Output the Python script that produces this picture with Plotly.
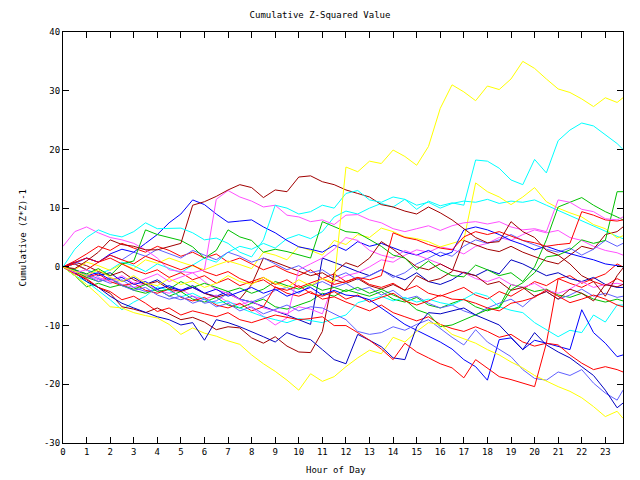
import plotly.graph_objects as go

# Sample times (hours): every half hour, plus the last quarter-hour sample
hours = [i * 0.5 for i in range(48)] + [23.75]
x_ticks = list(range(24))
y_ticks = list(range(-30, 41, 10))

# ---- series values ----
Y1 = [0, -0.8, -1.5, -0.5, -1.8, -2.5, -1.5, -2.8, -3.2, -2.0, -3.0, -2.4,
      -3.5, -2.8, -1.5, -2.5, -3.0, -1.8, -2.8, -3.5, -2.2, -3.2, -2.0, -2.6,
      17.0, 16.2, 18.0, 17.6, 19.9, 18.8, 17.3, 20.5, 27.0, 31.0, 29.8, 28.3,
      30.8, 30.2, 32.0, 35.0, 33.8, 32.0, 30.3, 29.7, 28.6, 27.3, 28.8, 28.0,
      28.8]
Y2 = [0, -1.5, -3.0, -4.8, -6.8, -7.0, -7.8, -8.3, -8.7, -9.8, -11.5, -10.4,
      -11.3, -11.8, -12.6, -13.2, -15.0, -16.5, -17.8, -19.3, -21.0, -18.2, -19.5, -18.7,
      -17.0, -15.5, -14.2, -14.8, -12.0, -12.8, -11.0, -9.5, -9.8, -11.5, -12.2, -13.0,
      -14.1, -15.0, -16.2, -17.2, -18.5, -19.5, -20.4, -21.2, -22.3, -23.8, -25.5, -24.6,
      -25.8]
Y3 = [0, -0.5, 0.8, 0.2, -0.6, 0.5, -0.3, 1.2, 0.6, 1.5, 0.8, 0.2,
      -0.5, 0.3, 1.0, 0.4, -0.3, 2.5, 2.0, 1.2, 3.5, 2.8, 2.0, 4.5,
      3.8, 5.5, 5.0, 6.6, 6.0, 5.1, 4.8, 4.3, 3.4, 4.0, 4.6, 14.3,
      12.8, 11.9, 10.6, 11.9, 13.5, 11.1, 10.0, 9.2, 8.5, 7.2, 6.5, 4.9,
      5.3]
C1 = [0, 3.0, 5.0, 6.3, 5.5, 5.1, 6.0, 7.5, 6.5, 6.6, 6.6, 5.8,
      4.6, 4.9, 4.0, 2.5, 1.7, 4.6, 10.5, 10.0, 9.0, 9.4, 10.5, 10.0,
      12.5, 13.0, 11.4, 11.0, 11.9, 11.5, 9.8, 11.2, 10.4, 10.9, 10.5, 18.2,
      18.0, 16.8, 14.8, 14.0, 18.3, 16.0, 21.5, 23.3, 24.5, 24.0, 22.5, 21.0,
      20.0]
C2 = [0, -1.5, -2.5, -4.0, -5.6, -7.3, -6.0, -5.0, -3.4, -4.0, -5.1, -4.5,
      -5.5, -6.2, -5.8, -7.0, -7.8, -8.5, -9.0, -9.5, -8.8, -9.2, -9.5, -8.8,
      -8.2, -6.1, -5.6, -5.0, -5.8, -5.2, -6.0, -5.5, -6.1, -6.5, -5.5, -4.4,
      -5.0, -6.8, -7.4, -7.8, -9.5, -10.7, -11.9, -10.8, -11.2, -8.2, -9.4, -6.5,
      -6.5]
C3 = [0, 0.5, -0.5, -1.2, -0.5, 0.8, 0.2, -0.8, 0.5, -0.2, -1.0, 0.3,
      1.5, 0.8, 2.5, 3.5, 3.0, 4.0, 3.2, 4.8, 5.5, 4.8, 6.0, 8.5,
      9.5, 9.0, 10.0, 10.8, 10.2, 11.5, 10.5, 11.0, 10.0, 10.8, 11.2, 11.0,
      11.5, 10.8, 11.2, 11.0, 11.4, 10.5, 9.6, 8.8, 7.8, 7.0, 6.0, 5.2,
      4.8]
D1 = [0, -1.0, -2.2, -3.5, -4.5, -6.8, -7.2, -7.8, -7.0, -8.0, -9.0, -8.6,
      -9.4, -10.7, -10.2, -10.4, -12.1, -13.0, -11.9, -13.5, -14.5, -14.6, -11.0, -1.0,
      0.7, 0.0, 1.5, 4.3, 3.0, 1.5, 0.0, -0.5, 0.5, -0.5, -1.0, -1.5,
      -3.0, -2.5, -4.0, -3.5, -5.0, -4.2, -5.5, -3.8, -4.5, -5.8, -3.0, -3.4,
      -3.0]
D2 = [0, 0.8, 0.2, -0.8, -1.5, -0.8, -2.2, -3.0, -2.5, -3.8, -4.2, -3.5,
      -4.5, -5.2, -4.6, -5.5, -3.0, 1.5, 0.8, 0.0, -0.8, -1.5, -1.0, -2.2,
      -2.8, -2.0, -3.2, -3.8, -3.0, -4.0, -1.5, -2.5, -2.0, -0.8, 4.5, 3.8,
      3.0, 2.6, 3.5, 2.5, 1.8, 1.0, 0.5, 2.0, 3.5, 3.0, 5.5, 6.0,
      6.8]
D3 = [0, -0.3, 1.0, 2.5, 4.6, 3.8, 3.5, 2.9, 2.9, 3.5, 4.0, 10.5,
      11.1, 12.0, 13.1, 14.0, 13.5, 11.8, 13.1, 12.8, 15.3, 15.5, 14.5, 14.0,
      13.1, 12.5, 11.9, 10.6, 10.2, 9.5, 9.0, 10.2, 9.2, 8.0, 6.5, 5.0,
      4.1, 4.3, 7.7, 6.0, 5.0, 2.8, 2.0, 0.5, -1.5, -2.5, -5.0, -1.5,
      -0.2]
M1 = [0, -1.0, -0.5, -1.8, -2.5, -1.5, -2.8, -2.0, -1.2, -2.5, -1.8, -1.0,
      -0.5, 11.5, 13.0, 11.9, 11.2, 10.2, 10.5, 8.8, 8.5, 7.7, 8.0, 7.2,
      8.8, 8.9, 8.0, 7.5, 6.5, 6.0, 6.5, 7.0, 6.2, 7.0, 7.5, 7.7,
      7.3, 7.7, 6.8, 6.3, 6.5, 6.0, 11.4, 11.0, 9.8, 9.4, 8.2, 8.0,
      8.5]
M2 = [3.5, 6.0, 6.8, 5.8, 5.0, 4.6, 4.0, 2.9, 1.5, -0.5, -0.8, -1.0,
      -2.5, -3.9, -4.5, -5.6, -7.0, -8.5, -9.9, -8.7, -0.5, 0.5, 1.5, 3.0,
      5.0, 4.5, 2.8, 2.0, 1.5, 2.8, 2.0, 1.2, 0.5, -0.5, -1.0, -2.0,
      -2.5, -1.8, -3.0, -3.5, -2.8, -4.0, -4.5, -3.8, -2.5, -3.5, -3.0, -2.8,
      -3.0]
M3 = [0, -0.8, -1.5, -2.2, -1.8, -3.0, -3.5, -2.8, -4.0, -4.5, -3.8, -5.0,
      -5.5, -4.8, -6.0, -6.5, -5.8, -7.0, -7.5, -8.0, -6.8, -7.2, -8.0, -2.5,
      -1.5, -1.0, 0.0, 1.2, 0.8, 2.0, 2.9, 2.5, 3.4, 3.0, 2.2, 3.5,
      4.0, 5.0, 4.5, 5.5, 6.3, 5.8, 6.2, 5.0, 4.5, 3.5, 2.8, 2.4,
      2.0]
G1 = [0, -0.5, -1.2, -0.3, -1.5, 0.5, 1.0, 6.3, 5.5, 5.0, 4.5, 3.4,
      1.5, 2.8, 6.3, 5.1, 4.5, 2.5, 3.0, 2.6, 2.0, 1.5, 7.7, 6.8,
      6.0, 5.8, 4.6, 3.5, 2.0, 1.5, -0.5, 1.0, -0.5, -1.5, -1.7, 0.3,
      -0.5, -1.5, -1.0, -2.5, 0.0, 4.6, 10.2, 11.0, 11.8, 10.5, 9.4, 8.5,
      8.0]
G2 = [0, -0.8, -1.8, -2.5, -2.0, -3.2, -3.8, -3.0, -4.2, -3.8, -2.5, -3.5,
      -2.8, -3.5, -4.2, -3.6, -4.5, -3.8, -2.5, -3.2, -3.8, -3.0, -4.0, -3.5,
      -4.2, -3.5, -4.5, -3.8, -4.8, -5.6, -7.3, -8.0, -10.2, -9.9, -9.0, -8.2,
      -7.3, -7.0, -3.9, -2.7, -1.0, 1.7, 2.0, 2.9, 4.6, 4.0, 4.5, 12.8,
      12.8]
G3 = [0, -1.5, -3.4, -2.8, -3.5, -3.0, -4.0, -4.5, -3.8, -5.0, -4.2, -5.5,
      -6.0, -5.2, -6.5, -7.0, -6.2, -5.5, -6.8, -7.2, -6.5, -5.8, -4.5, -5.0,
      -3.9, -4.5, -5.0, -4.2, -5.5, -6.0, -5.2, -6.5, -7.0, -6.2, -5.5, -6.8,
      -7.5, -6.8, -3.0, -3.5, -4.2, -3.8, -4.8, -5.2, -4.5, -5.5, -6.0, -5.5,
      -5.8]
R1 = [0, 0.5, -0.5, 0.8, 1.5, 0.5, -0.5, -1.2, -0.5, -1.8, -1.0, -2.2,
      -1.5, -2.8, -2.0, -3.2, -2.5, -1.8, -3.0, -2.2, -3.5, -2.8, -2.0, -3.0,
      -2.5, -1.8, -2.2, -1.5, 5.8, 5.0, 4.6, 3.8, 3.2, 2.9, 5.1, 6.0,
      5.5, 6.0, 5.2, 4.5, 4.1, 3.5, 3.8, 4.0, 9.4, 8.8, 8.0, 7.8,
      8.0]
R2 = [0, -1.2, -2.0, -3.5, -4.2, -5.6, -5.0, -6.2, -7.6, -7.0, -8.2, -7.5,
      -8.0, -8.5, -7.8, -9.0, -9.5, -8.8, -8.2, -8.6, -9.0, -8.8, -8.5, -10.0,
      -10.0, -11.2, -12.5, -14.0, -15.8, -13.0, -14.5, -15.5, -16.5, -17.2, -18.9, -15.8,
      -17.2, -18.7, -19.2, -19.8, -20.4, -13.0, -13.3, -15.0, -16.4, -17.5, -17.0, -17.5,
      -17.9]
R3 = [0, 0.8, 1.5, 0.8, 2.0, 1.2, 0.5, 1.8, 1.0, 0.2, -0.5, 0.3,
      -0.8, -1.5, -0.8, -2.0, -2.8, -2.2, -3.5, -4.0, -3.2, -4.5, -5.0, -4.2,
      -5.5, -4.8, -6.0, -5.2, -4.5, -5.8, -6.5, -5.8, -4.8, -5.5, -5.6, -6.2,
      -7.0, -7.5, -6.2, -5.8, -5.2, -3.9, -5.0, -6.1, -5.5, -4.8, -5.5, -6.5,
      -6.8]
R4 = [0, 1.0, 2.2, 3.5, 2.8, 4.0, 3.2, 2.5, 3.5, 2.8, 1.8, 2.5,
      1.5, 2.2, 0.8, 1.5, 0.5, -0.5, 0.2, -0.8, -1.5, -0.5, -2.0, -1.2,
      -2.5, -1.8, -3.0, -3.5, -2.8, -4.0, -3.2, -4.5, -5.0, -4.2, -3.5, -4.8,
      -5.5, -4.2, -5.0, -3.8, -2.5, -3.2, -2.0, -1.5, -2.8, -2.0, -1.2, 0.5,
      0.0]
R5 = [0, -0.8, -1.8, -1.2, -2.5, -3.2, -2.8, -4.0, -4.5, -3.8, -5.2, -5.8,
      -5.2, -6.5, -7.0, -6.2, -7.5, -6.8, -3.4, -4.5, -5.0, -4.2, -5.5, -5.1,
      -6.0, -6.8, -7.5, -6.5, -7.8, -8.5, -9.2, -8.5, -9.8, -10.5, -11.0, -10.2,
      -11.0, -12.0, -11.5, -12.8, -13.5, -13.0, -2.0, -2.8, -3.5, -2.5, -3.2, -2.0,
      -2.5]
B1 = [0, 0.8, 1.5, 0.8, 2.2, 3.0, 2.5, 4.0, 5.5, 7.5, 9.0, 11.4,
      10.6, 9.0, 7.6, 7.8, 8.0, 6.8, 5.8, 4.5, 3.4, 3.0, 2.5, 3.7,
      2.8, 4.3, 3.5, 4.0, 3.2, 2.5, 2.0, 2.8, 1.8, 2.5, 6.3, 6.8,
      6.3, 5.5, 4.5, 3.8, 2.9, 3.5, 2.8, 2.2, 1.7, 1.2, 0.5, 0.2,
      0.0]
B2 = [0, -1.0, -2.5, -3.5, -5.0, -6.2, -7.0, -7.8, -8.5, -9.0, -9.9, -9.5,
      -12.5, -9.0, -9.5, -10.2, -11.0, -11.9, -12.8, -11.2, -12.0, -12.4, -14.1, -15.8,
      -16.5, -11.5, -12.5, -13.6, -15.5, -15.8, -10.2, -7.8, -8.0, -7.5, -7.0, -8.2,
      -9.0, -9.9, -12.0, -14.1, -11.2, -13.3, -14.5, -15.5, -17.0, -18.5, -21.0, -24.0,
      -23.2]
B3 = [0, -0.5, -1.5, -1.0, -2.2, -1.8, -3.0, -2.5, -3.8, -3.2, -4.0, -3.5,
      -4.5, -3.8, -5.0, -4.2, -3.5, -4.5, -3.8, -5.0, -4.2, -3.5, -4.8, -4.0,
      -4.8, -5.0, -5.6, -7.0, -8.5, -9.8, -10.8, -11.8, -12.8, -14.0, -15.8, -17.0,
      -19.3, -12.4, -12.1, -14.1, -12.5, -13.0, -13.5, -14.1, -7.3, -11.2, -13.0, -15.3,
      -15.0]
B4 = [0, 0.5, -0.5, -1.5, -1.0, -2.5, -1.8, -3.0, -2.2, -3.5, -4.0, -3.2,
      -4.5, -5.0, -4.2, -5.5, -6.0, -6.8, -7.5, -8.2, -9.0, -9.8, 1.5, 0.8,
      0.0, -0.8, -1.5, -0.5, -1.5, -2.2, -1.0, -2.5, -3.0, -2.2, -0.9, -1.5,
      -0.5, -1.2, 1.2, 0.5, -0.5, -1.5, -1.0, -2.0, -2.5, -1.8, -3.0, -3.5,
      -3.5]
L1 = [0, -0.8, -1.5, -2.5, -2.0, -3.2, -4.0, -3.5, -4.8, -5.5, -5.0, -6.2,
      -5.5, -6.8, -6.2, -7.5, -6.8, -8.0, -7.2, -6.5, -7.5, -6.8, -7.0, -8.0,
      -9.0, -11.0, -11.5, -11.2, -10.2, -10.8, -9.8, -9.0, -10.5, -12.0, -13.3, -10.7,
      -12.8, -14.0, -15.3, -17.5, -19.0, -19.3, -17.9, -18.5, -17.5, -19.8, -21.5, -22.7,
      -21.0]
L2 = [0, 0.5, 1.5, 0.8, 2.0, 1.2, 2.5, 1.8, 3.0, 2.2, 1.5, 2.8,
      2.0, 1.2, 2.5, 1.8, 0.8, 1.5, 0.5, -0.5, 0.2, -1.0, -0.5, -1.8,
      -1.0, -2.2, -1.5, -0.5, -1.8, -1.0, 0.5, 1.5, 2.5, 1.8, 3.5, 4.6,
      4.0, 4.6, 5.5, 4.5, 3.8, 3.0, 2.5, 3.2, 2.0, 3.0, 4.5, 3.5,
      4.0]
L3 = [0, -0.5, -1.2, -2.0, -2.8, -2.2, -3.5, -4.2, -3.8, -5.0, -5.6, -5.0,
      -6.2, -5.8, -4.5, -5.5, -6.0, -5.2, -4.0, -3.5, -4.5, -3.2, -2.5, -3.5,
      -2.8, -4.0, -3.5, -4.8, -4.0, -5.5, -5.0, -6.2, -7.0, -6.5, -7.5, -8.2,
      -7.0, -6.2, -5.5, -6.8, -5.0, -4.2, -5.5, -4.8, -3.8, -5.0, -4.5, -5.2,
      -5.0]

RED, GREEN, BLUE, MAGENTA, CYAN = '#ff0000', '#00c000', '#0000ff', '#ff50ff', '#00ffff'
DARKRED, YELLOW, SLATE, NAVY = '#a00000', '#ffff00', '#6060ff', '#0000c0'

series = [
    (R4, RED), (G3, GREEN), (B4, NAVY), (M3, MAGENTA), (C3, CYAN), (D2, DARKRED),
    (Y3, YELLOW), (L3, SLATE), (R5, RED), (L2, SLATE), (B1, BLUE), (M2, MAGENTA),
    (C2, CYAN), (D1, DARKRED), (G2, GREEN), (R3, RED), (B3, BLUE), (L1, SLATE),
    (Y2, YELLOW), (B2, NAVY), (R2, RED), (G1, GREEN), (R1, RED), (M1, MAGENTA),
    (D3, DARKRED), (C1, CYAN), (Y1, YELLOW),
]

fig = go.Figure()
for ys, col in series:
    fig.add_trace(go.Scatter(
        x=hours[:len(ys)], y=ys, mode='lines',
        line=dict(color=col, width=1), hoverinfo='skip', showlegend=False))

FONT = 'DejaVu Sans Mono'
axis_common = dict(
    ticks='inside', ticklen=6, tickcolor='black', tickwidth=1,
    showline=True, linecolor='black', linewidth=1, mirror='ticks',
    showgrid=False, zeroline=False,
    tickfont=dict(family=FONT, size=9, color='black'),
)
fig.update_xaxes(range=[0, 23.75], tickvals=x_ticks, ticktext=[str(v) for v in x_ticks], **axis_common)
fig.update_yaxes(range=[-30, 40], tickvals=y_ticks, ticktext=[str(v) for v in y_ticks], **axis_common)

fig.update_layout(
    width=640, height=480,
    margin=dict(l=63, r=17, t=32, b=37),
    paper_bgcolor='white', plot_bgcolor='white',
    showlegend=False,
    font=dict(family=FONT, size=9, color='black'),
    title=dict(text='Cumulative Z-Squared Value', x=0.5, xref='container', xanchor='center',
               y=1 - 15 / 480, yref='container', yanchor='middle',
               font=dict(family=FONT, size=9, color='black')),
    annotations=[
        dict(text='Hour of Day', x=(335.5 - 63) / 560, y=(443 - 470) / 411,
             xref='paper', yref='paper', xanchor='center', yanchor='middle',
             showarrow=False, font=dict(family=FONT, size=9, color='black')),
        dict(text='Cumulative (Z*Z)-1', x=(22 - 63) / 560, y=0.5, textangle=-90,
             xref='paper', yref='paper', xanchor='center', yanchor='middle',
             showarrow=False, font=dict(family=FONT, size=9, color='black')),
    ],
)

fig.write_html('out.html')
